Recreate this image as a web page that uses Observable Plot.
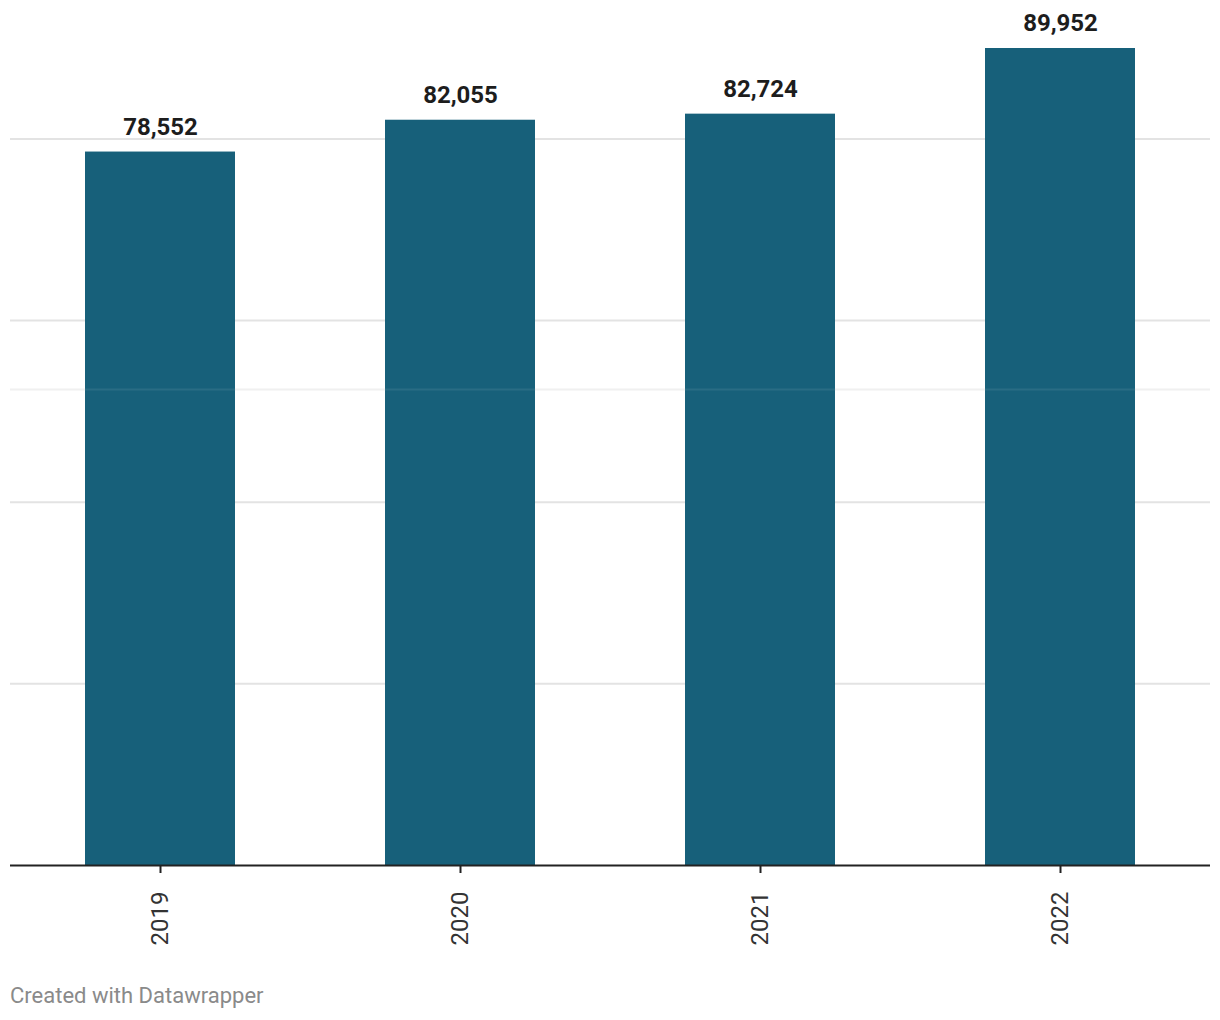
<!DOCTYPE html>
<html>
<head>
<meta charset="utf-8">
<script src="https://cdn.jsdelivr.net/npm/d3@7"></script>
<script src="https://cdn.jsdelivr.net/npm/@observablehq/plot@0.6"></script>
<style>
  body { margin: 0; background: #fff; font-family: Roboto, sans-serif; }
  #chart svg { display: block; }
  #footer { position: absolute; left: 10px; top: 983px; font-family: Roboto, sans-serif; font-size: 22px; color: #8a8a8a; }
</style>
</head>
<body>
<div id="chart"></div>
<div id="footer">Created with Datawrapper</div>
<script>
const years = ["2019", "2020", "2021", "2022"];
const values = [78552, 82055, 82724, 89952];
const gridValues = [20000, 40000, 60000, 80000];
const faintLine = [52400];

const data = years.map((y, i) => ({year: y, value: values[i]}));

const chart = Plot.plot({
  width: 1220,
  height: 960,
  marginLeft: 10,
  marginRight: 10,
  marginTop: 48,
  marginBottom: 95,
  style: {fontFamily: "Roboto, sans-serif", background: "#fff"},
  x: {domain: years, paddingInner: 0.5, paddingOuter: 0.25, label: null},
  y: {domain: [0, 89952], axis: null},
  marks: [
    Plot.ruleY(gridValues, {stroke: "#e3e3e3", strokeWidth: 2}),
    Plot.ruleY(faintLine, {stroke: "#efefef", strokeWidth: 2}),
    Plot.barY(data, {x: "year", y: "value", fill: "#17607a"}),
    Plot.ruleY(faintLine, {stroke: "#ffffff", strokeWidth: 2, strokeOpacity: 0.08}),
    Plot.ruleY([0], {stroke: "#222", strokeWidth: 2}),
    Plot.axisX({tickRotate: -90, tickSize: 8, tickPadding: 18, fontSize: 24, color: "#333", stroke: "#222", strokeWidth: 2, label: null}),
    Plot.text(data, {x: "year", y: "value", text: d => d3.format(",")(d.value), dy: -25, fontSize: 24, fontWeight: "bold", fill: "#1d1d1d"})
  ]
});
document.getElementById("chart").appendChild(chart);
</script>
</body>
</html>
